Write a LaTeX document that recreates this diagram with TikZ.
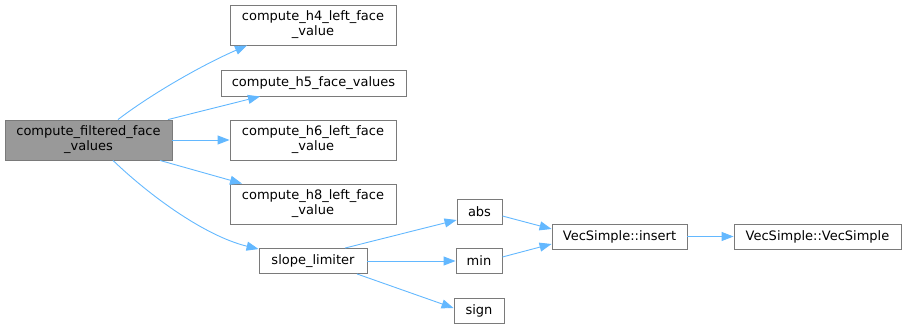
\documentclass[tikz,border=0pt]{standalone}
\usepackage{fontspec}
\setmainfont{DejaVu Sans}
\usetikzlibrary{arrows.meta}
\definecolor{edgeblue}{HTML}{63B8FF}
\definecolor{boxborder}{HTML}{7A7A7A}
\definecolor{rootfill}{HTML}{999999}
\begin{document}
\begin{tikzpicture}[x=1pt,y=-1pt,
  fn/.style={draw=boxborder,line width=0.9pt,fill=white,inner sep=0pt,align=center,
    font=\fontsize{13}{15}\selectfont,anchor=center},
  rootfn/.style={fn,fill=rootfill},
  call/.style={draw=edgeblue,line width=0.9pt,-{Triangle[length=12pt,width=9pt]}}]
\useasboundingbox (0,0) rectangle (907,329);
\node[rootfn,minimum width=167pt,minimum height=40pt] (main) at (88.5,140) {compute\_filtered\_face\\\_values};
\node[fn,minimum width=166pt,minimum height=40pt] (h4) at (313,25) {compute\_h4\_left\_face\\\_value};
\node[fn,minimum width=185pt,minimum height=26pt] (h5) at (313.5,83) {compute\_h5\_face\_values};
\node[fn,minimum width=166pt,minimum height=40pt] (h6) at (313,140) {compute\_h6\_left\_face\\\_value};
\node[fn,minimum width=166pt,minimum height=40pt] (h8) at (313,204) {compute\_h8\_left\_face\\\_value};
\node[fn,minimum width=108pt,minimum height=25pt] (slope) at (313,261) {slope\_limiter};
\node[fn,minimum width=45pt,minimum height=25pt] (abs) at (479.5,211.5) {abs};
\node[fn,minimum width=46pt,minimum height=25pt] (min) at (479,261) {min};
\node[fn,minimum width=50pt,minimum height=25pt] (sign) at (479,310.5) {sign};
\node[fn,minimum width=135pt,minimum height=25pt] (insert) at (619.5,236.5) {VecSimple::insert};
\node[fn,minimum width=167pt,minimum height=25pt] (vec) at (817.5,236.5) {VecSimple::VecSimple};
\draw[call] ([xshift=29.5pt]main.north) .. controls (150,95) and (200,66) .. ([xshift=-66pt]h4.south);
\draw[call] ([xshift=79.5pt]main.north) -- ([xshift=-53.5pt]h5.south);
\draw[call] (main.east) -- (h6.west);
\draw[call] ([xshift=71.5pt]main.south) -- ([xshift=-71pt]h8.north);
\draw[call] ([xshift=24.5pt]main.south) .. controls (150,196) and (205,236) .. ([yshift=-1pt]slope.north west);
\draw[call] ([xshift=32pt]slope.north) -- ([yshift=-8.5pt]abs.west);
\draw[call] (slope.east) -- (min.west);
\draw[call] ([xshift=44pt]slope.south) -- ([yshift=2.5pt]sign.west);
\draw[call] ([yshift=-4.5pt]abs.east) -- ([yshift=7.5pt]insert.west);
\draw[call] ([yshift=4pt]min.east) -- ([yshift=-7.5pt]insert.west);
\draw[call] (insert.east) -- (vec.west);
\end{tikzpicture}
\end{document}
